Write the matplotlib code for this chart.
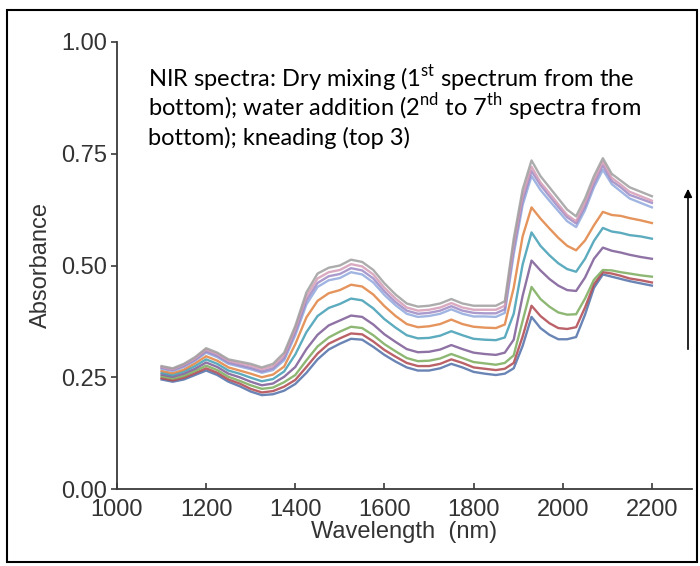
# NIR spectra of dough: dry mixing, water addition and kneading
import matplotlib
matplotlib.use("Agg")
import matplotlib.pyplot as plt
from matplotlib.patches import Rectangle, FancyArrowPatch

plt.rcParams['font.family'] = ['Liberation Sans', 'DejaVu Sans']
plt.rcParams['mathtext.fontset'] = 'custom'
plt.rcParams['mathtext.rm'] = 'Lato'

# wavelength grid (nm)
wavelength = [1100, 1125, 1150, 1175, 1200, 1225, 1250, 1275, 1300, 1325, 1350, 1375,
              1400, 1425, 1450, 1475, 1500, 1525, 1550, 1575, 1600, 1625, 1650, 1675,
              1700, 1725, 1750, 1775, 1800, 1825, 1850, 1870,
              1890, 1910, 1930,
              1950, 1970, 1990, 2010, 2030, 2050,
              2070, 2090, 2110, 2130, 2150, 2175, 2200]

# spectra, from bottom to top
spec_1 = [.245, .24, .245, .255, .265, .255, .24, .23, .218, .21, .212, .22,
          .235, .26, .29, .312, .325, .336, .334, .318, .30, .285, .272, .265, .265, .27, .28, .272, .262, .258, .255, .258,
          .27, .32, .385,
          .36, .345, .335, .335, .34, .39,
          .45, .48, .475, .47, .465, .46, .455]
spec_2 = [.248, .243, .249, .259, .270, .260, .245, .236, .224, .216, .219, .229,
          .244, .273, .303, .325, .337, .348, .346, .330, .311, .296, .282, .275, .275, .280, .290, .282, .272, .269, .266, .269,
          .282, .341, .410,
          .387, .371, .360, .358, .362, .406,
          .458, .485, .482, .477, .471, .467, .462]
spec_3 = [.252, .247, .253, .264, .276, .266, .251, .242, .232, .224, .227, .239,
          .255, .288, .319, .339, .352, .363, .360, .344, .324, .308, .293, .286, .287, .292, .302, .293, .284, .281, .278, .282,
          .299, .376, .452,
          .425, .408, .395, .390, .391, .426,
          .468, .490, .489, .485, .482, .478, .475]
spec_4 = [.256, .251, .258, .269, .283, .273, .258, .250, .240, .232, .236, .251,
          .273, .313, .345, .366, .377, .388, .385, .368, .346, .329, .313, .306, .307, .312, .322, .313, .305, .302, .300, .305,
          .334, .432, .511,
          .489, .470, .455, .445, .443, .473,
          .515, .540, .533, .529, .524, .519, .515]
spec_5 = [.260, .255, .263, .275, .290, .280, .265, .258, .249, .241, .246, .263,
          .301, .351, .387, .405, .414, .426, .422, .404, .380, .361, .344, .337, .338, .343, .353, .344, .336, .334, .333, .339,
          .392, .502, .574,
          .544, .523, .505, .492, .486, .515,
          .555, .584, .576, .573, .568, .565, .560]
spec_6 = [.264, .259, .267, .281, .297, .287, .272, .265, .258, .250, .256, .274,
          .324, .384, .421, .438, .445, .457, .453, .435, .409, .387, .369, .362, .364, .369, .379, .369, .363, .361, .360, .368,
          .450, .565, .630,
          .605, .583, .562, .544, .534, .556,
          .590, .620, .613, .611, .606, .601, .595]
spec_7 = [.269, .264, .273, .287, .305, .295, .280, .274, .268, .260, .266, .288,
          .344, .413, .452, .467, .472, .485, .480, .462, .434, .411, .392, .385, .387, .392, .402, .392, .386, .386, .385, .394,
          .525, .635, .700,
          .669, .645, .622, .599, .586, .624,
          .675, .714, .682, .666, .650, .640, .630]
spec_8 = [.271, .266, .275, .289, .308, .298, .283, .277, .271, .263, .270, .293,
          .351, .422, .461, .476, .481, .494, .489, .471, .442, .418, .399, .392, .394, .399, .409, .399, .394, .393, .393, .402,
          .537, .646, .711,
          .680, .655, .631, .608, .594, .632,
          .683, .724, .689, .675, .658, .649, .640]
spec_9 = [.273, .268, .278, .292, .312, .302, .287, .281, .276, .268, .275, .299,
          .358, .431, .471, .485, .490, .503, .498, .480, .450, .426, .406, .399, .401, .406, .416, .406, .401, .401, .401, .410,
          .548, .656, .721,
          .686, .662, .637, .613, .599, .640,
          .690, .732, .696, .681, .665, .655, .645]
spec_10 = [.275, .27, .28, .295, .315, .305, .29, .285, .28, .272, .28, .305,
           .365, .44, .482, .495, .50, .513, .508, .49, .46, .435, .415, .408, .41, .415, .425, .415, .41, .41, .41, .42,
           .56, .67, .735,
           .70, .675, .65, .625, .61, .65,
           .70, .74, .705, .69, .675, .665, .655]

spectra = [spec_1, spec_2, spec_3, spec_4, spec_5, spec_6, spec_7, spec_8, spec_9, spec_10]
colors = ['#4f6fa8', '#b0474f', '#7aab5c', '#7b5a96', '#3f9db3',
          '#e0823f', '#8fa8dc', '#9c88c4', '#d49bb5', '#9e9e9e']

xticks = [1000, 1200, 1400, 1600, 1800, 2000, 2200]
yticks = [0.0, 0.25, 0.5, 0.75, 1.0]

fig = plt.figure(figsize=(7, 5.66), dpi=100)
ax = fig.add_axes([117 / 700, 77 / 566, 575 / 700, 447 / 566])

for spec, col in zip(spectra, colors):
    ax.plot(wavelength, spec, color=col, lw=1.7, alpha=0.85, solid_joinstyle='round')

ax.set_xlim(1000, 2290)
ax.set_ylim(0, 1)
ax.set_xticks(xticks)
ax.set_yticks(yticks)
ax.set_yticklabels(['%.2f' % v for v in yticks])

for side in ['top', 'right']:
    ax.spines[side].set_visible(False)
for side in ['left', 'bottom']:
    ax.spines[side].set_color('#3a3a3a')
    ax.spines[side].set_linewidth(1.3)

ax.tick_params(axis='x', direction='in', length=4, width=1.2, colors='#3a3a3a',
               labelsize=17, pad=7, labelcolor='#333333')
ax.tick_params(axis='y', direction='out', length=4, width=1.2, colors='#3a3a3a',
               labelsize=17, pad=3, labelcolor='#333333')

ax.set_xlabel('Wavelength  (nm)', fontsize=17, color='#333333', labelpad=0)
ax.set_ylabel('Absorbance', fontsize=17, color='#333333', labelpad=7)

# annotation text
note_lines = [r'NIR spectra: Dry mixing (1$^{\mathrm{st}}$ spectrum from the',
              r'bottom); water addition (2$^{\mathrm{nd}}$ to 7$^{\mathrm{th}}$ spectra from',
              r'bottom); kneading (top 3)']
for i, line in enumerate(note_lines):
    fig.text(148 / 700, 1 - (87 + 29 * i) / 566, line, fontsize=17,
             family=['Lato', 'DejaVu Sans'], color='black', va='baseline', ha='left')

# arrow on the right
fig.patches.append(FancyArrowPatch(
    (688 / 700, 1 - 352 / 566), (688 / 700, 1 - 186 / 566),
    transform=fig.transFigure, arrowstyle='-|>', mutation_scale=12,
    color='black', lw=1.2))

# outer frame
fig.patches.append(Rectangle((7 / 700, 4 / 566), 690 / 700, 552 / 566,
                             transform=fig.transFigure, fill=False,
                             edgecolor='black', lw=1.5))

fig.savefig('out.png', dpi=100)
